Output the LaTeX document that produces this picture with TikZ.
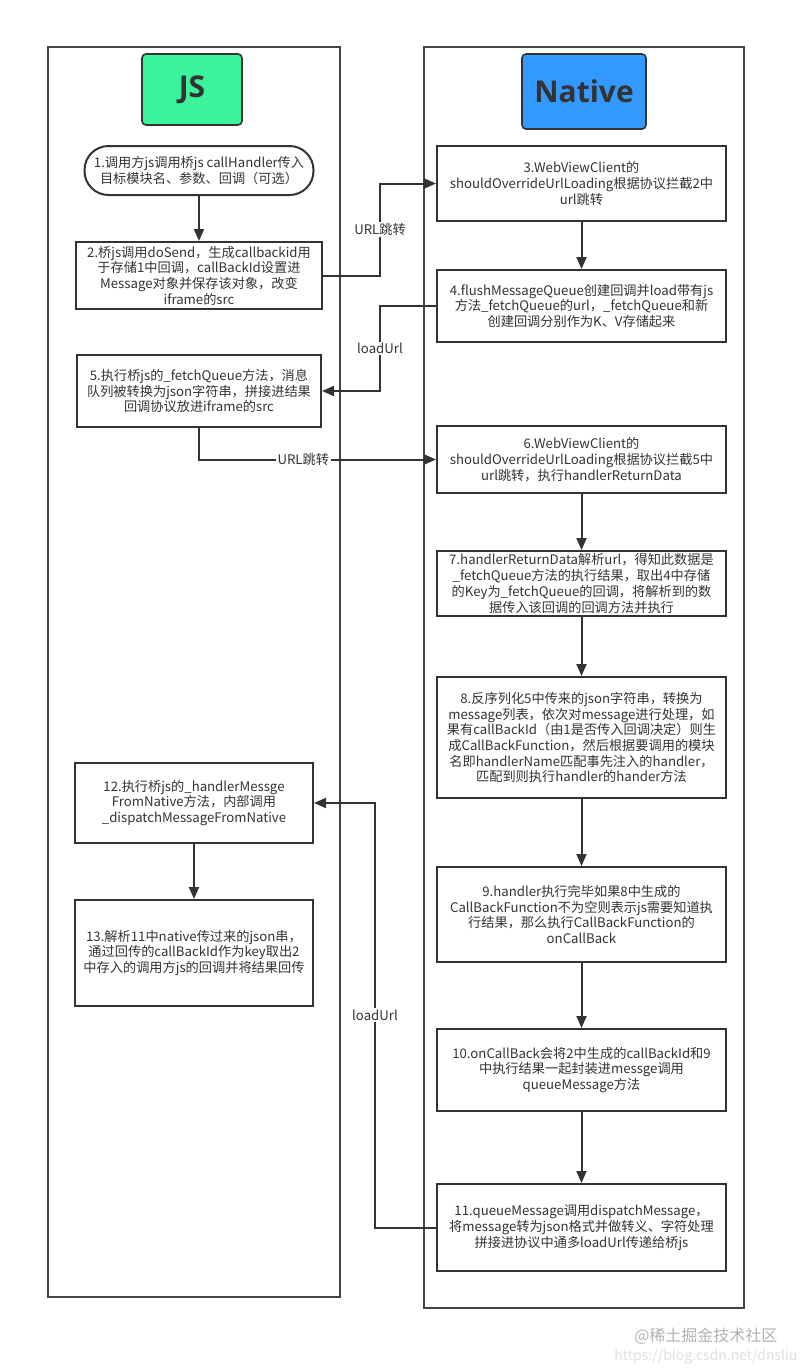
\documentclass[tikz,border=0pt]{standalone}
\usepackage{fontspec}
\setmainfont{Noto Sans CJK SC}
\newfontfamily\titlefont{Open Sans}
\usetikzlibrary{arrows.meta}
\definecolor{ink}{HTML}{333333}
\definecolor{lanec}{HTML}{444444}
\definecolor{jsgreen}{HTML}{3CF29B}
\definecolor{natblue}{HTML}{3399FF}
\tikzset{
  lane/.style={draw=lanec, line width=1.5pt, inner sep=0pt},
  title/.style={draw=ink, line width=1.6pt, rounded corners=4pt, inner sep=0pt, font=\titlefont\bfseries\fontsize{30}{34}\selectfont, text=ink},
  stepbox/.style={draw=ink, line width=2pt, inner sep=0pt, align=center, text=ink, font=\fontsize{13.2}{15.7}\selectfont},
  arr/.style={draw=ink, line width=2pt, -{Triangle[length=12pt,width=10pt]}},
  lbl/.style={fill=white, inner sep=1.5pt, text=ink, font=\fontsize{13.2}{15}\selectfont},
}
\begin{document}
\begin{tikzpicture}[x=1pt,y=-1pt]
\useasboundingbox (0,0) rectangle (806,1371);
% lanes
\node[lane, minimum width=292pt, minimum height=1250pt] (laneL) at (194,672) {};
\node[lane, minimum width=320pt, minimum height=1261pt] (laneR) at (584,677.5) {};
% titles
\node[title, fill=jsgreen, minimum width=100pt, minimum height=71pt] (js) at (192,89.5) {JS};
\node[title, fill=natblue, minimum width=124pt, minimum height=75pt] (native) at (584,91.5) {Native};
% JS side
\node[stepbox, rounded corners=24pt, minimum width=229pt, minimum height=49pt] (b1) at (199,170.5)
  {1.调用方js调用桥js callHandler传入\\目标模块名、参数、回调（可选）};
\node[stepbox, minimum width=246pt, minimum height=67pt] (b2) at (199,275.5)
  {2.桥js调用doSend，生成callbackid用\\于存储1中回调，callBackId设置进\\Message对象并保存该对象，改变\\iframe的src};
\node[stepbox, minimum width=244pt, minimum height=72pt] (b5) at (199,391)
  {5.执行桥js的\_fetchQueue方法，消息\\队列被转换为json字符串，拼接进结果\\回调协议放进iframe的src};
\node[stepbox, minimum width=238pt, minimum height=80pt] (b12) at (194,803)
  {12.执行桥js的\_handlerMessge\\FromNative方法，内部调用\\\_dispatchMessageFromNative};
\node[stepbox, minimum width=238pt, minimum height=106pt] (b13) at (194,953)
  {13.解析11中native传过来的json串，\\通过回传的callBackId作为key取出2\\中存入的调用方js的回调并将结果回传};
% Native side
\node[stepbox, minimum width=289pt, minimum height=75pt] (b3) at (581.5,183.5)
  {3.WebViewClient的\\shouldOverrideUrlLoading根据协议拦截2中\\url跳转};
\node[stepbox, minimum width=289pt, minimum height=72pt] (b4) at (581.5,306)
  {4.flushMessageQueue创建回调并load带有js\\方法\_fetchQueue的url，\_fetchQueue和新\\创建回调分别作为K、V存储起来};
\node[stepbox, minimum width=289pt, minimum height=67pt] (b6) at (581.5,459.5)
  {6.WebViewClient的\\shouldOverrideUrlLoading根据协议拦截5中\\url跳转，执行handlerReturnData};
\node[stepbox, minimum width=289pt, minimum height=65pt] (b7) at (581.5,583.5)
  {7.handlerReturnData解析url，得知此数据是\\\_fetchQueue方法的执行结果，取出4中存储\\的Key为\_fetchQueue的回调，将解析到的数\\据传入该回调的回调方法并执行};
\node[stepbox, minimum width=289pt, minimum height=121pt] (b8) at (581.5,737.5)
  {8.反序列化5中传来的json字符串，转换为\\message列表，依次对message进行处理，如\\果有callBackId（由1是否传入回调决定）则生\\成CallBackFunction，然后根据要调用的模块\\名即handlerName匹配事先注入的handler，\\匹配到则执行handler的hander方法};
\node[stepbox, minimum width=289pt, minimum height=95pt] (b9) at (581.5,914.5)
  {9.handler执行完毕如果8中生成的\\CallBackFunction不为空则表示js需要知道执\\行结果，那么执行CallBackFunction的\\onCallBack};
\node[stepbox, minimum width=289pt, minimum height=82pt] (b10) at (581.5,1070)
  {10.onCallBack会将2中生成的callBackId和9\\中执行结果一起封装进messge调用\\queueMessage方法};
\node[stepbox, minimum width=289pt, minimum height=87pt] (b11) at (581.5,1227.5)
  {11.queueMessage调用dispatchMessage，\\将message转为json格式并做转义、字符处理\\拼接进协议中通多loadUrl传递给桥js};
% helper coordinates
\coordinate (c23) at (380,0);
\coordinate (c45) at (380,0);
\coordinate (c1112) at (375,0);
% straight arrows
\draw[arr] (b1) -- (b2);
\draw[arr] (b12) -- (b13);
\draw[arr] (b3) -- (b4);
\draw[arr] (b6) -- (b7);
\draw[arr] (b7) -- (b8);
\draw[arr] (b8) -- (b9);
\draw[arr] (b9) -- (b10);
\draw[arr] (b10) -- (b11);
% cross-lane connectors
\draw[arr] (b2.east) -- (b2.east -| c23) -- node[lbl] {URL跳转} (b3.west -| c23) -- (b3.west);
\draw[arr] (b4.west) -- (b4.west -| c45) -- node[lbl] {loadUrl} (b5.east -| c45) -- (b5.east);
\draw[arr] (b5.south) |- node[lbl, pos=0.72] {URL跳转} (b6.west);
\draw[arr] (b11.west) -- (b11.west -| c1112) -- node[lbl] {loadUrl} (b12.east -| c1112) -- (b12.east);
% watermark
\node[text=black!30, font=\fontsize{16}{18}\selectfont, anchor=east] (wm1) at (781,1336) {@稀土掘金技术社区};
\node[text=black!13, font=\fontsize{14}{16}\selectfont, anchor=east] (wm2) at (801,1357) {https://blog.csdn.net/dnsliu};
\end{tikzpicture}
\end{document}
